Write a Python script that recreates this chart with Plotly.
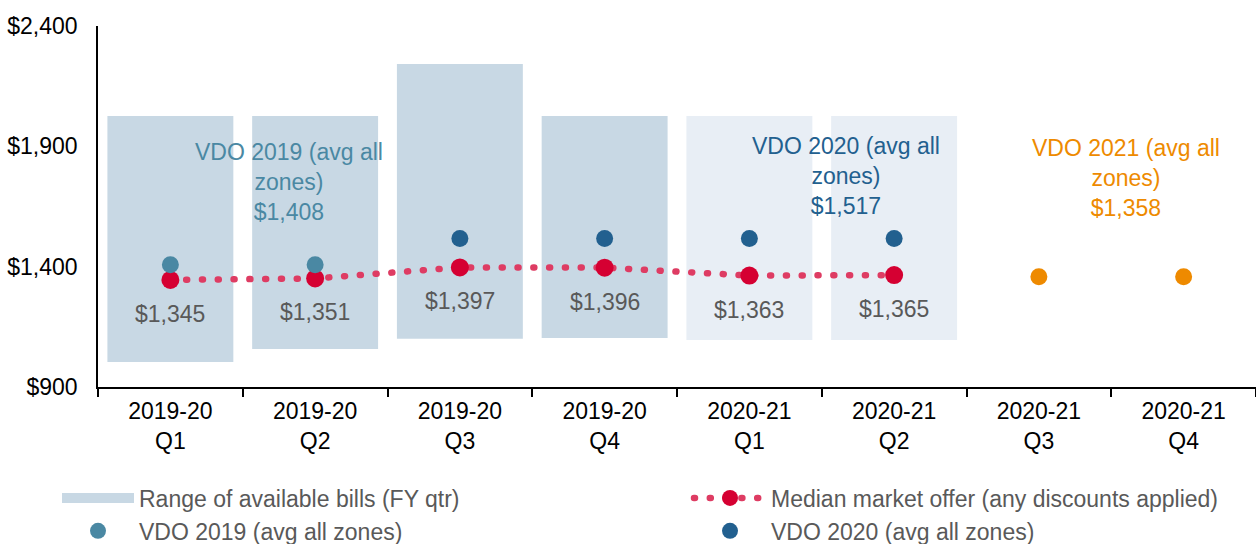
import plotly.graph_objects as go

categories = ["2019-20<br>Q1", "2019-20<br>Q2", "2019-20<br>Q3", "2019-20<br>Q4",
              "2020-21<br>Q1", "2020-21<br>Q2", "2020-21<br>Q3", "2020-21<br>Q4"]

range_cats = categories[:6]
range_low = [1004, 1058, 1100, 1104, 1095, 1095]
range_high = [2026, 2026, 2242, 2026, 2026, 2026]
range_colors = ["#C8D8E4"] * 4 + ["#E8EEF5"] * 2

median_cats = categories[:6]
median_vals = [1345, 1351, 1397, 1396, 1363, 1365]
median_labels = ["$1,345", "$1,351", "$1,397", "$1,396", "$1,363", "$1,365"]

vdo2019_cats = categories[:2]
vdo2019_vals = [1408, 1408]
vdo2020_cats = categories[2:6]
vdo2020_vals = [1517, 1517, 1517, 1517]
vdo2021_cats = categories[6:]
vdo2021_vals = [1358, 1358]

FONT = "Liberation Sans, Arial, sans-serif"
FS = 23
GRAY = "#595959"
C19 = "#4A88A3"
C20 = "#22608F"
C21 = "#EE8A00"
RED = "#D50032"
REDLINE = "#DE3C63"
BARC = "#C8D8E4"

fig = go.Figure()

fig.add_trace(go.Bar(
    x=range_cats, y=[h - l for h, l in zip(range_high, range_low)], base=range_low,
    marker=dict(color=range_colors, line=dict(width=0)),
    name="Range of available bills (FY qtr)", showlegend=False, hoverinfo="skip"))

# legend entry for the range bars (wide swatch like the reference)
fig.add_trace(go.Scatter(
    x=[None], y=[None], mode="lines", line=dict(color=BARC, width=13),
    name="Range of available bills (FY qtr)", legend="legend"))

fig.add_trace(go.Scatter(
    x=median_cats, y=median_vals, mode="lines+markers",
    line=dict(color=REDLINE, width=6.5, dash="1px,14.8px"),
    marker=dict(color=RED, size=18),
    name="Median market offer (any discounts applied)", legend="legend2"))

fig.add_trace(go.Scatter(
    x=vdo2019_cats, y=vdo2019_vals, mode="markers",
    marker=dict(color=C19, size=17), name="VDO 2019 (avg all zones)", legend="legend"))
fig.add_trace(go.Scatter(
    x=vdo2020_cats, y=vdo2020_vals, mode="markers",
    marker=dict(color=C20, size=17), name="VDO 2020 (avg all zones)", legend="legend2"))
fig.add_trace(go.Scatter(
    x=vdo2021_cats, y=vdo2021_vals, mode="markers",
    marker=dict(color=C21, size=17), name="VDO 2021 (avg all zones)", legend="legend"))

annotations = []
for c, v, t in zip(median_cats, median_vals, median_labels):
    annotations.append(dict(x=c, y=v, text=t, showarrow=False, yshift=-34,
                            font=dict(family=FONT, size=FS, color=GRAY)))

annotations.append(dict(x=0.82, y=1752, text="VDO 2019 (avg all<br>zones)<br>$1,408",
                        showarrow=False, font=dict(family=FONT, size=FS, color=C19)))
annotations.append(dict(x=4.67, y=1777, text="VDO 2020 (avg all<br>zones)<br>$1,517",
                        showarrow=False, font=dict(family=FONT, size=FS, color=C20)))
annotations.append(dict(x=6.6, y=1768, text="VDO 2021 (avg all<br>zones)<br>$1,358",
                        showarrow=False, font=dict(family=FONT, size=FS, color=C21)))

legend_common = dict(orientation="v", xref="container", yref="container",
                     y=1 - 476.5 / 544, xanchor="left", yanchor="top",
                     itemwidth=72, bgcolor="rgba(0,0,0,0)",
                     font=dict(family=FONT, size=FS, color=GRAY), traceorder="normal")

fig.update_layout(
    width=1256, height=544,
    margin=dict(l=98, r=0, t=26, b=157, autoexpand=False),
    paper_bgcolor="white", plot_bgcolor="white",
    bargap=0.13,
    showlegend=True,
    legend=dict(x=57 / 1256, **legend_common),
    legend2=dict(x=689 / 1256, **legend_common),
    annotations=annotations,
    font=dict(family=FONT, size=FS, color="black"),
)

fig.update_xaxes(
    type="category", categoryorder="array", categoryarray=categories,
    range=[-0.5, 7.5],
    showline=True, linecolor="black", linewidth=1.5,
    ticks="outside", tickson="boundaries", ticklen=8, tickcolor="black", tickwidth=1.5,
    ticklabelstandoff=3, tickangle=0,
    showgrid=False, tickfont=dict(family=FONT, size=FS, color="black"))

fig.update_yaxes(
    range=[900, 2400], tickvals=[900, 1400, 1900, 2400],
    ticktext=["$900", "$1,400", "$1,900", "$2,400"],
    showline=True, linecolor="black", linewidth=1.5, ticks="",
    ticklabelstandoff=14,
    showgrid=False, zeroline=False,
    tickfont=dict(family=FONT, size=FS, color="black"))

post = (
    "document.body.style.margin='0';"
    "document.querySelectorAll('.js-line').forEach(function(p){"
    "if((p.style.strokeDasharray||'').indexOf('14.8')>=0){p.style.strokeLinecap='round';}});"
)
fig.write_html("out.html", config={"displayModeBar": False}, post_script=post)
